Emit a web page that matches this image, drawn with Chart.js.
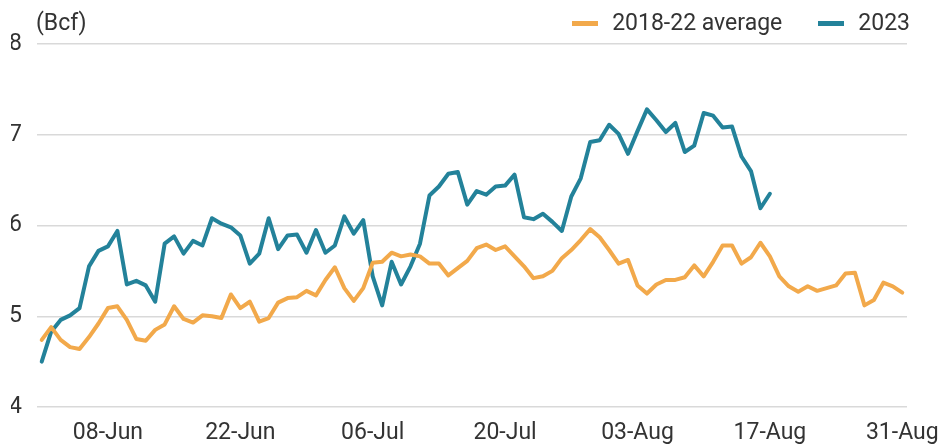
<!DOCTYPE html>
<html>
<head>
<meta charset="utf-8">
<script src="https://cdn.jsdelivr.net/npm/chart.js@4"></script>
<style>
  html, body { margin: 0; padding: 0; background: #fff; }
  #wrap { position: relative; width: 942px; height: 445px; font-family: Roboto, "Noto Sans", sans-serif; color: #333; }
  #chart { display: block; }
  #unit { position: absolute; left: 36px; top: 9px; font-size: 23px; line-height: 28px; }
  #legend { position: absolute; right: 32px; top: 9px; display: flex; font-size: 23px; line-height: 28px; }
  .item { display: flex; align-items: center; margin-left: 36px; }
  .swatch { width: 26px; height: 5px; margin-right: 14px; }
</style>
</head>
<body>
<div id="wrap">
  <canvas id="chart" width="942" height="445"></canvas>
  <div id="unit">(Bcf)</div>
  <div id="legend"></div>
</div>
<script>
// ---------------------------------------------------------
// Data (daily, 01-Jun to 31-Aug)
// ---------------------------------------------------------
const months = [['Jun', 30], ['Jul', 31], ['Aug', 31]];
const tickLabels = ['08-Jun', '22-Jun', '06-Jul', '20-Jul', '03-Aug', '17-Aug', '31-Aug'];
const yTicks = [4, 5, 6, 7, 8];

const avg1822 = [
  4.74, 4.88, 4.74, 4.66, 4.64, 4.77, 4.92, 5.09, 5.11, 4.96,
  4.75, 4.73, 4.85, 4.91, 5.11, 4.97, 4.93, 5.01, 5.00, 4.98,
  5.24, 5.09, 5.16, 4.94, 4.98, 5.15, 5.20, 5.21, 5.28, 5.23,
  5.40, 5.54, 5.31, 5.17, 5.31, 5.59, 5.60, 5.70, 5.66, 5.68,
  5.66, 5.58, 5.58, 5.45, 5.53, 5.61, 5.75, 5.79, 5.73, 5.77,
  5.66, 5.55, 5.42, 5.44, 5.50, 5.64, 5.73, 5.84, 5.96, 5.87,
  5.73, 5.58, 5.62, 5.34, 5.25, 5.35, 5.40, 5.40, 5.43, 5.56,
  5.44, 5.60, 5.78, 5.78, 5.58, 5.65, 5.81, 5.66, 5.44, 5.33,
  5.27, 5.33, 5.28, 5.31, 5.34, 5.47, 5.48, 5.12, 5.18, 5.37,
  5.33, 5.26
];

const y2023 = [
  4.50, 4.83, 4.96, 5.01, 5.09, 5.55, 5.72, 5.77, 5.94, 5.35,
  5.39, 5.34, 5.16, 5.80, 5.88, 5.69, 5.83, 5.78, 6.08, 6.02,
  5.98, 5.89, 5.58, 5.69, 6.08, 5.74, 5.89, 5.90, 5.70, 5.95,
  5.70, 5.78, 6.10, 5.91, 6.06, 5.44, 5.12, 5.60, 5.35, 5.55,
  5.80, 6.33, 6.43, 6.57, 6.59, 6.23, 6.38, 6.34, 6.43, 6.44,
  6.56, 6.09, 6.07, 6.13, 6.04, 5.94, 6.32, 6.52, 6.92, 6.94,
  7.11, 7.01, 6.79, 7.04, 7.28, 7.16, 7.03, 7.13, 6.81, 6.88,
  7.24, 7.21, 7.08, 7.09, 6.76, 6.60, 6.19, 6.35
];

const seriesNames = ['2018-22 average', '2023'];
const seriesColors = ['#f2a94b', '#23829a'];

// category labels, one per day
const days = [];
months.forEach(([m, n]) => {
  for (let d = 1; d <= n; d++) days.push(String(d).padStart(2, '0') + '-' + m);
});

// ---------------------------------------------------------
// Legend (HTML)
// ---------------------------------------------------------
const legendEl = document.getElementById('legend');
seriesNames.forEach((name, i) => {
  const item = document.createElement('div');
  item.className = 'item';
  item.innerHTML = '<span class="swatch" style="background:' + seriesColors[i] + '"></span><span>' + name + '</span>';
  legendEl.appendChild(item);
});

// ---------------------------------------------------------
// Chart
// ---------------------------------------------------------
const font = { family: 'Roboto, "Noto Sans", sans-serif', size: 23 };

new Chart(document.getElementById('chart'), {
  type: 'line',
  data: {
    labels: days,
    datasets: [avg1822, y2023].map((vals, i) => ({
      label: seriesNames[i],
      data: vals,
      borderColor: seriesColors[i],
      backgroundColor: seriesColors[i],
      borderWidth: 4,
      pointRadius: 0,
      tension: 0,
      borderJoinStyle: 'round',
      borderCapStyle: 'round'
    }))
  },
  options: {
    responsive: false,
    animation: false,
    layout: { padding: { top: 44, left: 11, right: 35, bottom: 0 } },
    plugins: { legend: { display: false }, tooltip: { enabled: false } },
    scales: {
      x: {
        offset: true,
        grid: { display: false, drawTicks: false },
        border: { display: false },
        // fixed axis size; let the last label run to the canvas edge
        afterFit: (axis) => { axis.height = 38; axis.paddingLeft = 0; axis.paddingRight = 0; },
        ticks: {
          font: font,
          color: '#333',
          autoSkip: false,
          maxRotation: 0,
          padding: 12,
          callback: function(v) {
            const lab = this.getLabelForValue(v);
            return tickLabels.includes(lab) ? lab : '';
          }
        }
      },
      y: {
        min: yTicks[0],
        max: yTicks[yTicks.length - 1],
        afterBuildTicks: (axis) => { axis.ticks = yTicks.map(v => ({ value: v })); },
        afterFit: (axis) => { axis.width = 26; },
        grid: { color: '#d9d9d9', lineWidth: 1.5, drawTicks: false },
        border: { display: false },
        ticks: { font: font, color: '#333', padding: 15 }
      }
    }
  }
});
</script>
</body>
</html>
